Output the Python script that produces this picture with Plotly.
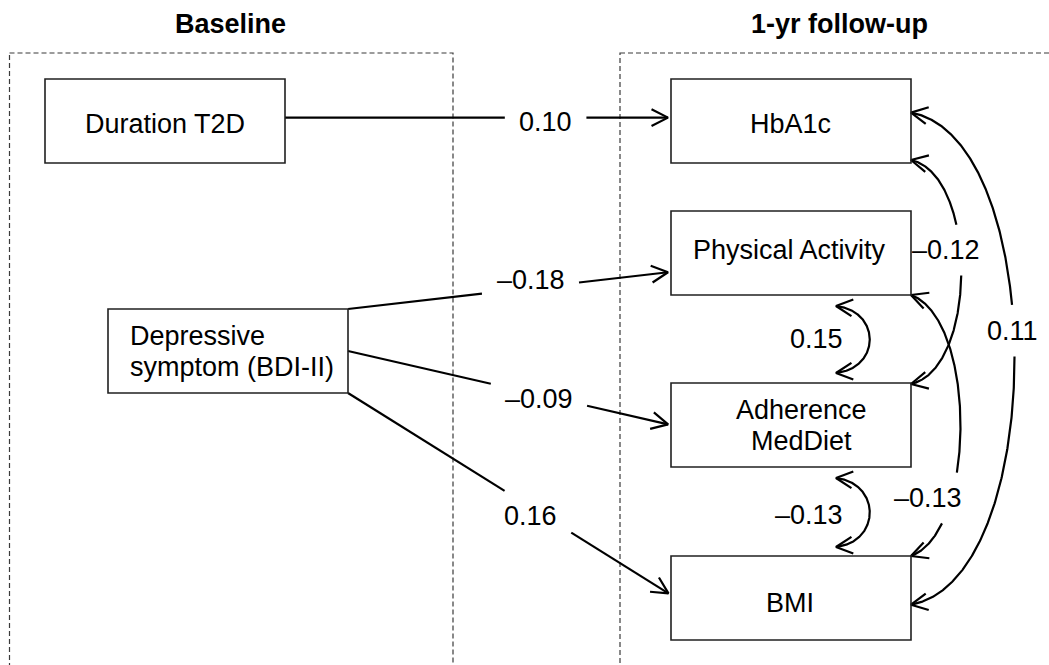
import numpy as np
import plotly.graph_objects as go

W, H = 1049, 665

# ---------------- data ----------------
node_keys = ["dur", "dep", "hba", "pa", "adh", "bmi"]
node_labels = [["Duration T2D"], ["Depressive", "symptom (BDI-II)"], ["HbA1c"],
               ["Physical Activity"], ["Adherence", "MedDiet"], ["BMI"]]
node_group = ["Baseline", "Baseline", "1-yr follow-up", "1-yr follow-up",
              "1-yr follow-up", "1-yr follow-up"]
group_titles = ["Baseline", "1-yr follow-up"]

# regressions (single-headed arrows)
reg_from = ["dur", "dep", "dep", "dep"]
reg_to = ["hba", "pa", "adh", "bmi"]
reg_coef = [0.10, -0.18, -0.09, 0.16]

# covariances (double-headed curved arrows)
cov_a = ["pa", "adh", "hba", "pa", "hba"]
cov_b = ["adh", "bmi", "adh", "bmi", "bmi"]
cov_coef = [0.15, -0.13, -0.12, -0.13, 0.11]

# ---------------- layout / style ----------------
FONT = "Liberation Sans, Arial, Helvetica, sans-serif"
FS = 27
BOX_W, BOX_H = 240, 84
node_xy = {"dur": (45, 79), "dep": (108, 309), "hba": (671, 79),
           "pa": (671, 211), "adh": (671, 383), "bmi": (671, 556)}
# (anchor, x offset, y offset of text block centre)
node_text = {"dur": ("center", 0, 2.5), "dep": ("left", 20, 0), "hba": ("center", -1, 3),
             "pa": ("center", -1.5, -3), "adh": ("center", 10, 0.5), "bmi": ("center", -1.5, 4.5)}
LINE_GAP = 31
group_frames = {"Baseline": (9.5, 453, 230), "1-yr follow-up": (620, W + 20, 839)}
FRAME_TOP = 53
TITLE_Y = 24

reg_geom = [
    dict(src=(1, .46), dst=(0, .46), t=.676, off=(0, 4.4)),
    dict(src=(1, 0), dst=(0, .725), t=.565, off=(0, -8)),
    dict(src=(1, .5), dst=(0, .5), t=.591, off=(0, 4.3)),
    dict(src=(1, 1), dst=(0, .464), t=.566, off=(0, 8.8)),
]
cov_geom = [
    dict(a=(.6875, 1, 11), b=(.6875, 0, -10), h=45, e=5, t=.5, off=(-53.3, -0.5), cut=False),
    dict(a=(.6875, 1, 11), b=(.6875, 0, -9), h=45, e=5, t=.5, off=(-60.7, 2), cut=False),
    dict(a=(1, 1, -3), b=(1, 0, 1), h=67, e=15, t=.43, off=(-13.8, 0), cut=True),
    dict(a=(1, 1, 0), b=(1, 0, 0), h=66, e=24, t=.72, off=(-22.8, -1.5), cut=True),
    dict(a=(1, .4, 0), b=(1, .58, 0), h=138, e=25, t=.46, off=(-1, 0), cut=True),
]
HEAD_L, HEAD_A = 18.5, np.radians(27)
TIP_GAP = 3
PAD_X, HALF_H = 14, 25
EDGE_W = 2.2


def anchor(key, fx, fy, dy=0.0):
    x0, y0 = node_xy[key]
    return np.array([x0 + fx * BOX_W, y0 + fy * BOX_H + dy], dtype=float)


def fmt(v):
    return f"{v:.2f}".replace("-", "\u2013")


def text_width(s, size):
    w = 0.0
    for c in s:
        w += .278 if c == "." else .556
    return w * size


def cut_runs(pts, center, hw, hh):
    if center is None:
        return list(pts[:, 0]), list(pts[:, 1])
    inside = (np.abs(pts[:, 0] - center[0]) < hw) & (np.abs(pts[:, 1] - center[1]) < hh)
    xs, ys = [], []
    prev_in = True
    for p, ins in zip(pts, inside):
        if ins:
            if not prev_in:
                xs.append(None); ys.append(None)
            prev_in = True
            continue
        xs.append(float(p[0])); ys.append(float(p[1])); prev_in = False
    return xs, ys


def rot(v, a):
    return np.array([v[0] * np.cos(a) - v[1] * np.sin(a), v[0] * np.sin(a) + v[1] * np.cos(a)])


def head(tip, back_dir):
    u = back_dir / np.linalg.norm(back_dir)
    b1 = tip + HEAD_L * rot(u, HEAD_A)
    b2 = tip + HEAD_L * rot(u, -HEAD_A)
    return [b1[0], tip[0], b2[0]], [b1[1], tip[1], b2[1]]


def bezier(P0, C1, C2, P3, t):
    t = np.asarray(t)[:, None]
    return ((1 - t) ** 3) * P0 + 3 * ((1 - t) ** 2) * t * C1 + 3 * (1 - t) * t ** 2 * C2 + t ** 3 * P3


fig = go.Figure()
shapes, annotations = [], []

# group frames + titles
for g in group_titles:
    x0, x1, tx = group_frames[g]
    shapes.append(dict(type="rect", xref="x", yref="y", x0=x0, x1=x1, y0=FRAME_TOP, y1=H + 20,
                       line=dict(color="#3a3a3a", width=1.2, dash="5px,3px"), layer="below"))
    annotations.append(dict(x=tx, y=TITLE_Y, xref="x", yref="y", text=f"<b>{g}</b>", showarrow=False,
                            xanchor="center", yanchor="middle", font=dict(family=FONT, size=FS, color="black")))

# nodes
for key, lines in zip(node_keys, node_labels):
    x0, y0 = node_xy[key]
    shapes.append(dict(type="rect", xref="x", yref="y", x0=x0, x1=x0 + BOX_W, y0=y0, y1=y0 + BOX_H,
                       line=dict(color="#202020", width=1.6), fillcolor="rgba(0,0,0,0)"))
    anc, dx, dy = node_text[key]
    cy = y0 + BOX_H / 2 + dy
    n = len(lines)
    for i, ln in enumerate(lines):
        ly = cy + (i - (n - 1) / 2) * LINE_GAP
        lx = x0 + dx if anc == "left" else x0 + BOX_W / 2 + dx
        annotations.append(dict(x=lx, y=ly, xref="x", yref="y", text=ln, showarrow=False,
                                xanchor=anc, yanchor="middle",
                                font=dict(family=FONT, size=FS, color="black")))

line_x, line_y = [], []


def add_path(xs, ys):
    line_x.extend(xs + [None]); line_y.extend(ys + [None])


# regressions
for f, t_, c, g in zip(reg_from, reg_to, reg_coef, reg_geom):
    P0 = anchor(f, *g["src"])
    P1 = anchor(t_, *g["dst"])
    u = (P1 - P0) / np.linalg.norm(P1 - P0)
    tip = P1 - TIP_GAP * u
    lab = fmt(c)
    centre = P0 + g["t"] * (P1 - P0) + np.array(g["off"])
    ts = np.linspace(0, 1, 400)
    pts = P0 + ts[:, None] * (tip - P0)
    xs, ys = cut_runs(pts, centre, text_width(lab, FS) / 2 + PAD_X, HALF_H)
    add_path(xs, ys)
    hx, hy = head(tip, -u)
    add_path(hx, hy)
    annotations.append(dict(x=centre[0], y=centre[1], xref="x", yref="y", text=lab, showarrow=False,
                            xanchor="center", yanchor="middle",
                            font=dict(family=FONT, size=FS, color="black")))

# covariances
for a, b, c, g in zip(cov_a, cov_b, cov_coef, cov_geom):
    P0 = anchor(a, *g["a"])
    P3 = anchor(b, *g["b"])
    C1 = P0 + np.array([g["h"], g["e"]])
    C2 = P3 + np.array([g["h"], -g["e"]])
    lab = fmt(c)
    centre = bezier(P0, C1, C2, P3, [g["t"]])[0] + np.array(g["off"])
    pts = bezier(P0, C1, C2, P3, np.linspace(0, 1, 500))
    xs, ys = cut_runs(pts, centre if g["cut"] else None, text_width(lab, FS) / 2 + PAD_X, HALF_H)
    add_path(xs, ys)
    hx, hy = head(P0, C1 - P0)
    add_path(hx, hy)
    hx, hy = head(P3, C2 - P3)
    add_path(hx, hy)
    annotations.append(dict(x=centre[0], y=centre[1], xref="x", yref="y", text=lab, showarrow=False,
                            xanchor="center", yanchor="middle",
                            font=dict(family=FONT, size=FS, color="black")))

fig.add_trace(go.Scatter(x=line_x, y=line_y, mode="lines", hoverinfo="skip",
                         line=dict(color="black", width=EDGE_W), showlegend=False))

fig.update_layout(
    width=W, height=H, margin=dict(l=0, r=0, t=0, b=0),
    paper_bgcolor="white", plot_bgcolor="white", showlegend=False,
    xaxis=dict(range=[0, W], visible=False, fixedrange=True),
    yaxis=dict(range=[H, 0], visible=False, fixedrange=True),
    shapes=shapes, annotations=annotations,
)

fig.write_html("out.html", config={"displayModeBar": False},
               post_script="document.body.style.margin='0px';document.body.style.overflow='hidden';")
